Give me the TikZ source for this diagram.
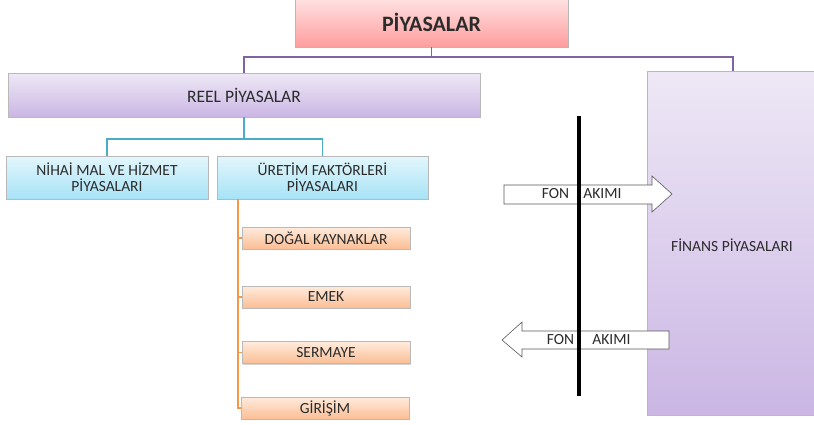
\documentclass[tikz,border=0pt]{standalone}
\usepackage{fontspec}
\setmainfont{Carlito}
\usepackage{tikz}
\usetikzlibrary{positioning,shapes,shadows,calc}
\definecolor{pembeust}{HTML}{FFE4E4}
\definecolor{pembealt}{HTML}{FF9D9D}
\definecolor{morust}{HTML}{EEE8F6}
\definecolor{moralt}{HTML}{CBB6E4}
\definecolor{maviust}{HTML}{E4F6FC}
\definecolor{mavialt}{HTML}{A6E3F6}
\definecolor{turuncuust}{HTML}{FFEBDD}
\definecolor{turuncualt}{HTML}{FBBE94}
\definecolor{yazi}{HTML}{2B2B2B}
\definecolor{morcizgi}{HTML}{8064A2}
\definecolor{mavicizgi}{HTML}{4BACC6}
\definecolor{turuncucizgi}{HTML}{F79646}
\tikzstyle{kutu}=[%
      rectangle, draw=gray!55, thin, text=yazi, align=center, inner sep=0pt,
      drop shadow={shadow xshift=1.2pt, shadow yshift=-1.2pt, opacity=0.35}
]
\tikzstyle{ana}=[kutu, top color=pembeust, bottom color=pembealt]
\tikzstyle{reelk}=[kutu, top color=morust, bottom color=moralt]
\tikzstyle{alt}=[kutu, top color=maviust, bottom color=mavialt]
\tikzstyle{faktor}=[kutu, top color=turuncuust, bottom color=turuncualt,
      minimum width=168pt, minimum height=22pt]
\tikzstyle{fon}=[draw=gray!70!black, fill=white, line width=0.6pt, line join=miter]
\tikzstyle{mor}=[draw=morcizgi, line width=1.8pt]
\tikzstyle{mavi}=[draw=mavicizgi, line width=1.8pt]
\tikzstyle{turuncu}=[draw=turuncucizgi, line width=1.8pt]

\begin{document}
\begin{tikzpicture}[x=1pt, y=-1pt, font=\fontsize{15.5}{16}\selectfont]
    \useasboundingbox (0,0) rectangle (814,424);

    \node[ana, minimum width=273pt, minimum height=50pt,
          font=\fontsize{22}{24}\selectfont\bfseries]  (piyasalar) at (431.5,22) {PİYASALAR};
    \node[reelk, minimum width=472pt, minimum height=44pt,
          font=\fontsize{17.5}{18}\selectfont]         (reel)      at (244,95)   {REEL PİYASALAR};
    \node[reelk, minimum width=172pt, minimum height=344pt] (finans) at (733,243) {};
    \node[text=yazi] (finansyazi) at (732,245) {FİNANS PİYASALARI};

    \node[alt, minimum width=202pt, minimum height=43pt] (nihai)  at (107,177.5)
          {NİHAİ MAL VE HİZMET\\PİYASALARI};
    \node[alt, minimum width=211pt, minimum height=43pt] (uretim) at (322.5,177.5)
          {ÜRETİM FAKTÖRLERİ\\PİYASALARI};

    \node[faktor] (dogal)   at (326,238)   {DOĞAL KAYNAKLAR};
    \node[faktor] (emek)    at (326,297)   {EMEK};
    \node[faktor] (sermaye) at (326,352.5) {SERMAYE};
    \node[faktor] (girisim) at (325,408)   {GİRİŞİM};

    % baglantilar
    \coordinate (ustdal) at ($(piyasalar.south)+(0,10)$);
    \draw[mor] (piyasalar.south) -- (ustdal);
    \draw[mor] (reel.north) |- (ustdal) -| (finans.north);
    \coordinate (ortadal) at ($(reel.south)+(0,22)$);
    \draw[mavi] (reel.south) -- (ortadal);
    \draw[mavi] (nihai.north) |- (ortadal) -| (uretim.north);
    \coordinate (dal) at (238,199);
    \draw[turuncu] (dal) |- (girisim.west);
    \foreach \f in {dogal, emek, sermaye}
        \draw[turuncu] (dal |- \f.west) -- (\f.west);

    % fon akimi oklari
    \draw[fon] (504,185) -- (652,185) -- (652,176) -- (672,194)
               -- (652,212) -- (652,204) -- (504,204) -- cycle;
    \node[text=yazi] (fon1)  at (555.5,194) {FON};
    \node[text=yazi] (akim1) at (602.5,194) {AKIMI};
    \draw[fon] (669,331) -- (522,331) -- (522,322) -- (502,340)
               -- (522,357) -- (522,349) -- (669,349) -- cycle;
    \node[text=yazi] (fon2)  at (560.5,340) {FON};
    \node[text=yazi] (akim2) at (611.5,340) {AKIMI};

    \coordinate (cizgiust) at (579,116);
    \coordinate (cizgialt) at (579,396);
    \draw[line width=4pt] (cizgiust) -- (cizgialt);
\end{tikzpicture}
\end{document}
